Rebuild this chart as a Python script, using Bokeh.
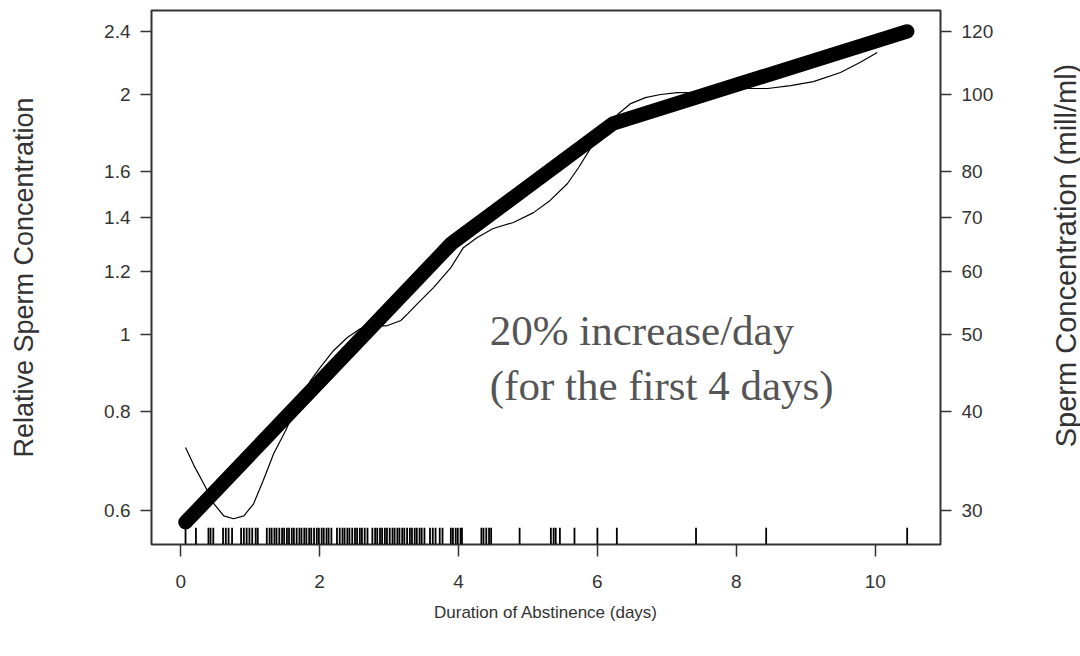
import math
from bokeh.plotting import figure
from bokeh.layouts import row
from bokeh.models import Range1d, LogScale, LogAxis, FixedTicker, Label, CustomJSTickFormatter
from bokeh.core.properties import value
from bokeh.embed import file_html
from bokeh.resources import INLINE

# Fitted piecewise log-linear model (relative concentration)
fit_days = [0.07, 3.9, 6.23, 10.46]
fit_rel = [0.58, 1.30, 1.84, 2.40]

# Smoothed (nonparametric) curve
smooth_days = [0.07, 0.19, 0.33, 0.48, 0.62, 0.76, 0.91, 1.05, 1.19, 1.34, 1.51, 1.73,
               1.87, 2.01, 2.20, 2.40, 2.59, 2.78, 2.98, 3.17, 3.27, 3.41, 3.64, 3.89,
               4.07, 4.27, 4.50, 4.79, 5.08, 5.32, 5.57, 5.73, 5.90, 6.09, 6.29, 6.48,
               6.69, 6.91, 7.15, 7.44, 7.77, 8.10, 8.45, 8.78, 9.11, 9.50, 9.78, 10.03]
smooth_rel = [0.720, 0.684, 0.649, 0.612, 0.591, 0.586, 0.591, 0.612, 0.655, 0.708, 0.756, 0.832,
              0.874, 0.908, 0.953, 0.990, 1.016, 1.022, 1.025, 1.040, 1.061, 1.092, 1.144, 1.212,
              1.284, 1.322, 1.357, 1.381, 1.421, 1.472, 1.546, 1.619, 1.711, 1.812, 1.887, 1.948,
              1.982, 2.000, 2.011, 2.011, 2.023, 2.035, 2.035, 2.052, 2.076, 2.131, 2.194, 2.258]

# Observed abstinence durations (rug)
rug_days = [0.07, 0.22, 0.40, 0.43, 0.47, 0.61, 0.65, 0.69, 0.74, 0.87, 0.91, 0.95, 0.99, 1.03, 1.08, 1.11,
            1.24, 1.28, 1.31, 1.35, 1.38, 1.42, 1.46, 1.49, 1.53, 1.56, 1.60, 1.63, 1.67, 1.71, 1.74,
            1.78, 1.81, 1.85, 1.88, 1.92, 1.96, 1.99, 2.03, 2.06, 2.10, 2.13, 2.17,
            2.25, 2.29, 2.33, 2.36, 2.40, 2.43, 2.47, 2.51, 2.54, 2.58, 2.61, 2.65, 2.69,
            2.76, 2.80, 2.83, 2.87, 2.90, 2.94, 2.97, 3.01, 3.05, 3.08, 3.12, 3.15, 3.19, 3.22,
            3.26, 3.30, 3.33, 3.37, 3.40, 3.44, 3.47, 3.51,
            3.59, 3.63, 3.67, 3.73, 3.77, 3.89, 3.92, 3.96, 3.99, 4.03, 4.05,
            4.33, 4.36, 4.40, 4.44, 4.47, 4.88, 5.33, 5.37, 5.40, 5.46, 5.67, 6.00, 6.28,
            7.42, 8.43, 10.46]

x_ticks = [0, 2, 4, 6, 8, 10]
left_ticks = [0.6, 0.8, 1, 1.2, 1.4, 1.6, 2, 2.4]
left_labels = ["0.6", "0.8", "1", "1.2", "1.4", "1.6", "2", "2.4"]
right_ticks = [30, 40, 50, 60, 70, 80, 100, 120]
right_labels = ["30", "40", "50", "60", "70", "80", "100", "120"]
mill_per_rel = 50  # mill/ml per relative unit

annotation_lines = ["20% increase/day", "(for the first 4 days)"]
right_title = "Sperm Concentration (mill/ml)"

X0, X1 = -0.42, 10.94
Y0, Y1 = 0.544, 2.55
TXT = "#333333"
FONT = "Liberation Sans"
SIDE_W = 60
B_TOP, B_BOT = 10, 112

p = figure(width=1080 - SIDE_W, height=656, output_backend="svg", toolbar_location=None,
           x_range=Range1d(X0, X1), y_range=Range1d(Y0, Y1), y_axis_type="log",
           min_border_left=151, min_border_right=80, min_border_top=B_TOP, min_border_bottom=B_BOT,
           background_fill_color="white", border_fill_color="white")
p.xgrid.visible = False
p.ygrid.visible = False
p.outline_line_color = "#333333"
p.outline_line_width = 2

p.extra_y_ranges = {"conc": Range1d(Y0 * mill_per_rel, Y1 * mill_per_rel)}
p.extra_y_scales = {"conc": LogScale()}
rax = LogAxis(y_range_name="conc")
p.add_layout(rax, "right")

fmt_code = ("const i = tvals.findIndex(t => Math.abs(t - tick) < 1e-6 * Math.max(1, Math.abs(t)));"
            " return i >= 0 ? tlabels[i] : '';")
p.xaxis.ticker = FixedTicker(ticks=x_ticks)
p.yaxis[0].ticker = FixedTicker(ticks=left_ticks)
p.yaxis[0].formatter = CustomJSTickFormatter(args=dict(tvals=left_ticks, tlabels=left_labels), code=fmt_code)
rax.ticker = FixedTicker(ticks=right_ticks)
rax.formatter = CustomJSTickFormatter(args=dict(tvals=right_ticks, tlabels=right_labels), code=fmt_code)

for ax in [p.xaxis[0], p.yaxis[0], rax]:
    ax.axis_line_color = None
    ax.minor_tick_line_color = None
    ax.major_tick_in = 0
    ax.major_tick_out = 11
    ax.major_tick_line_color = "#333333"
    ax.major_tick_line_width = 1.5
    ax.major_label_text_font = FONT
    ax.major_label_text_font_size = "19px"
    ax.major_label_text_color = TXT
    ax.axis_label_text_font = FONT
    ax.axis_label_text_font_size = "27px"
    ax.axis_label_text_font_style = "normal"
    ax.axis_label_text_color = TXT

p.xaxis.axis_label = "Duration of Abstinence (days)"
p.xaxis.axis_label_text_font_size = "17px"
p.xaxis.major_tick_out = 12
p.xaxis.major_label_standoff = 18
p.xaxis.axis_label_standoff = 12
p.yaxis[0].axis_label = "Relative Sperm Concentration"
p.yaxis[0].major_label_standoff = 10
p.yaxis[0].axis_label_standoff = 62
rax.major_label_standoff = 10

# rug
p.segment(x0=rug_days, y0=[Y0] * len(rug_days), x1=rug_days, y1=[0.571] * len(rug_days),
          line_color="black", line_width=1.8)
# smooth curve
p.line(smooth_days, smooth_rel, line_color="black", line_width=1.2)
# fitted model
p.line(fit_days, fit_rel, line_color="black", line_width=14.5, line_cap="round", line_join="round")

p.add_layout(Label(x=4.45, y=1.010, text=annotation_lines[0], text_font="Liberation Serif",
                   text_font_size="43px", text_color="#555555", text_baseline="middle"))
p.add_layout(Label(x=4.45, y=0.862, text=annotation_lines[1], text_font="Liberation Serif",
                   text_font_size="43px", text_color="#555555", text_baseline="middle"))

# narrow side panel carrying the right-hand axis title (reads bottom-to-top);
# it shares the main plot's vertical range and frame borders
q = figure(width=SIDE_W, height=656, output_backend="svg", toolbar_location=None,
           x_range=Range1d(0, 1), y_range=p.y_range, y_axis_type="log",
           x_axis_location=None, y_axis_location=None,
           min_border_left=0, min_border_right=0, min_border_top=B_TOP, min_border_bottom=B_BOT,
           background_fill_color="white", border_fill_color="white")
q.outline_line_color = None
q.xgrid.visible = False
q.ygrid.visible = False
frac_from_top = (255 - B_TOP) / (656 - B_TOP - B_BOT)
title_y = math.exp(math.log(Y1) - frac_from_top * (math.log(Y1) - math.log(Y0)))
q.text(x=[0.75], y=[title_y], text=[right_title], angle=math.pi / 2,
       text_align="center", text_baseline="middle", text_font=value(FONT),
       text_font_size="29px", text_color=TXT)

layout = row(p, q, spacing=0)
open("out.html", "w").write(file_html(layout, INLINE))
